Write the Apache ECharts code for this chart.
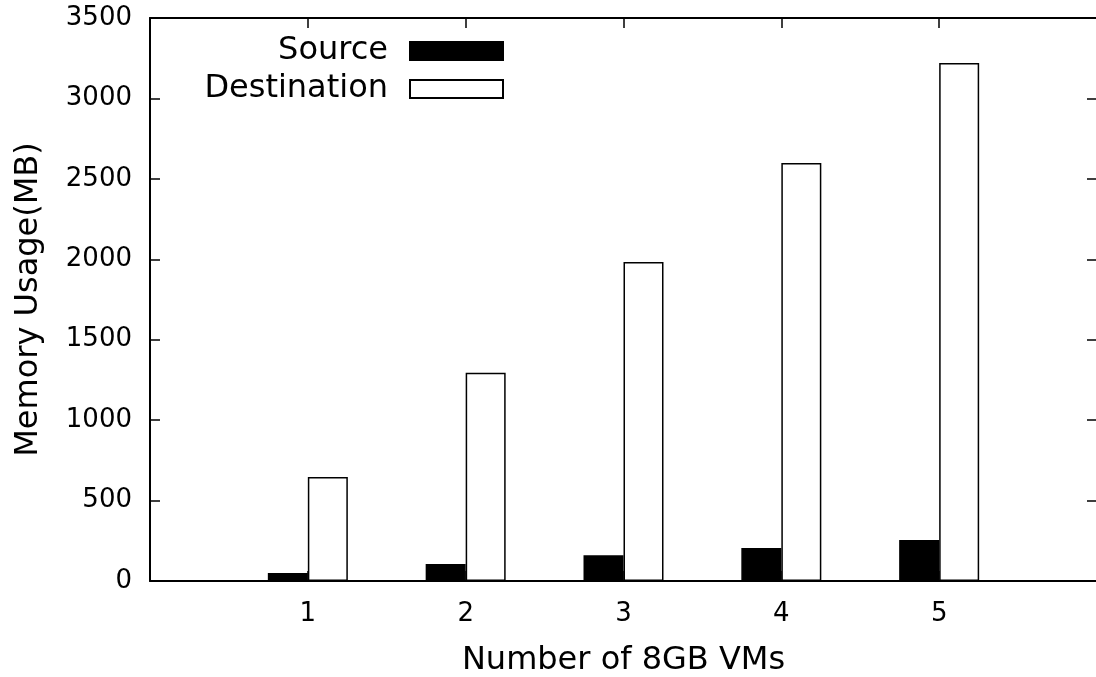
<!DOCTYPE html>
<html>
<head>
<meta charset="utf-8">
<script src="https://cdn.jsdelivr.net/npm/echarts@6/dist/echarts.min.js"></script>
<style>
  html, body { margin: 0; padding: 0; background: #fff; }
  #chart { width: 1096px; height: 677px; }
</style>
</head>
<body>
<div id="chart"></div>
<script>
// data
var vmCounts = [1, 2, 3, 4, 5];
var sourceMem = [50, 105, 160, 205, 255];
var destMem = [646, 1295, 1983, 2598, 3220];

var myChart = echarts.init(document.getElementById('chart'));

var font = 'DejaVu Sans';
var pairs = function (ys) {
    return vmCounts.map(function (x, i) { return [x, ys[i]]; });
};
var hideEnds = function (v) { return (v < 1 || v > 5) ? '' : String(v); };
var plain = function (v) { return String(v); };

var lineStyle = { color: '#000', width: 2 };
var tickStyle = { show: true, inside: true, length: 10, lineStyle: { color: '#000', width: 1.5 } };

var option = {
    animation: false,
    textStyle: { fontFamily: font, color: '#000' },
    grid: { left: 150, right: -1, top: 18, bottom: 96, containLabel: false, outerBoundsMode: 'none' },
    legend: [
        {
            data: ['Source'], orient: 'vertical', right: 587, top: 30, align: 'right',
            icon: 'rect', itemWidth: 93, itemHeight: 18, itemGap: 0,
            textStyle: { fontFamily: font, fontSize: 32, color: '#000', padding: [2, 17, 0, 0] }
        },
        {
            data: ['Destination'], orient: 'vertical', right: 587, top: 68, align: 'right',
            icon: 'rect', itemWidth: 93, itemHeight: 18, itemGap: 0,
            textStyle: { fontFamily: font, fontSize: 32, color: '#000', padding: [2, 17, 0, 0] }
        }
    ],
    xAxis: [
        {
            type: 'value', min: 0, max: 6, interval: 1, position: 'bottom',
            name: 'Number of 8GB VMs', nameLocation: 'middle', nameGap: 64,
            nameTextStyle: { fontFamily: font, fontSize: 32, color: '#000' },
            axisLine: { show: true, onZero: false, lineStyle: lineStyle },
            axisTick: tickStyle,
            axisLabel: { fontFamily: font, fontSize: 26, color: '#000', margin: 20, formatter: hideEnds },
            splitLine: { show: false }
        },
        {
            type: 'value', min: 0, max: 6, interval: 1, position: 'top',
            axisLine: { show: true, onZero: false, lineStyle: lineStyle },
            axisTick: tickStyle,
            axisLabel: { show: false },
            splitLine: { show: false }
        }
    ],
    yAxis: [
        {
            type: 'value', min: 0, max: 3500, interval: 500, position: 'left',
            name: 'Memory Usage(MB)', nameLocation: 'middle', nameGap: 105,
            nameTextStyle: { fontFamily: font, fontSize: 32, color: '#000' },
            axisLine: { show: true, onZero: false, lineStyle: lineStyle },
            axisTick: tickStyle,
            axisLabel: { fontFamily: font, fontSize: 26, color: '#000', margin: 18, formatter: plain },
            splitLine: { show: false }
        },
        {
            type: 'value', min: 0, max: 3500, interval: 500, position: 'right',
            axisLine: { show: true, onZero: false, lineStyle: lineStyle },
            axisTick: tickStyle,
            axisLabel: { show: false },
            splitLine: { show: false }
        }
    ],
    series: [
        {
            name: 'Source', type: 'bar', data: pairs(sourceMem),
            barWidth: 40, barGap: '0%',
            itemStyle: { color: '#000', borderColor: '#000', borderWidth: 1.5 }
        },
        {
            name: 'Destination', type: 'bar', data: pairs(destMem),
            barWidth: 40, barGap: '0%',
            itemStyle: { color: '#fff', borderColor: '#000', borderWidth: 1.5 }
        }
    ]
};

myChart.setOption(option);
</script>
</body>
</html>
